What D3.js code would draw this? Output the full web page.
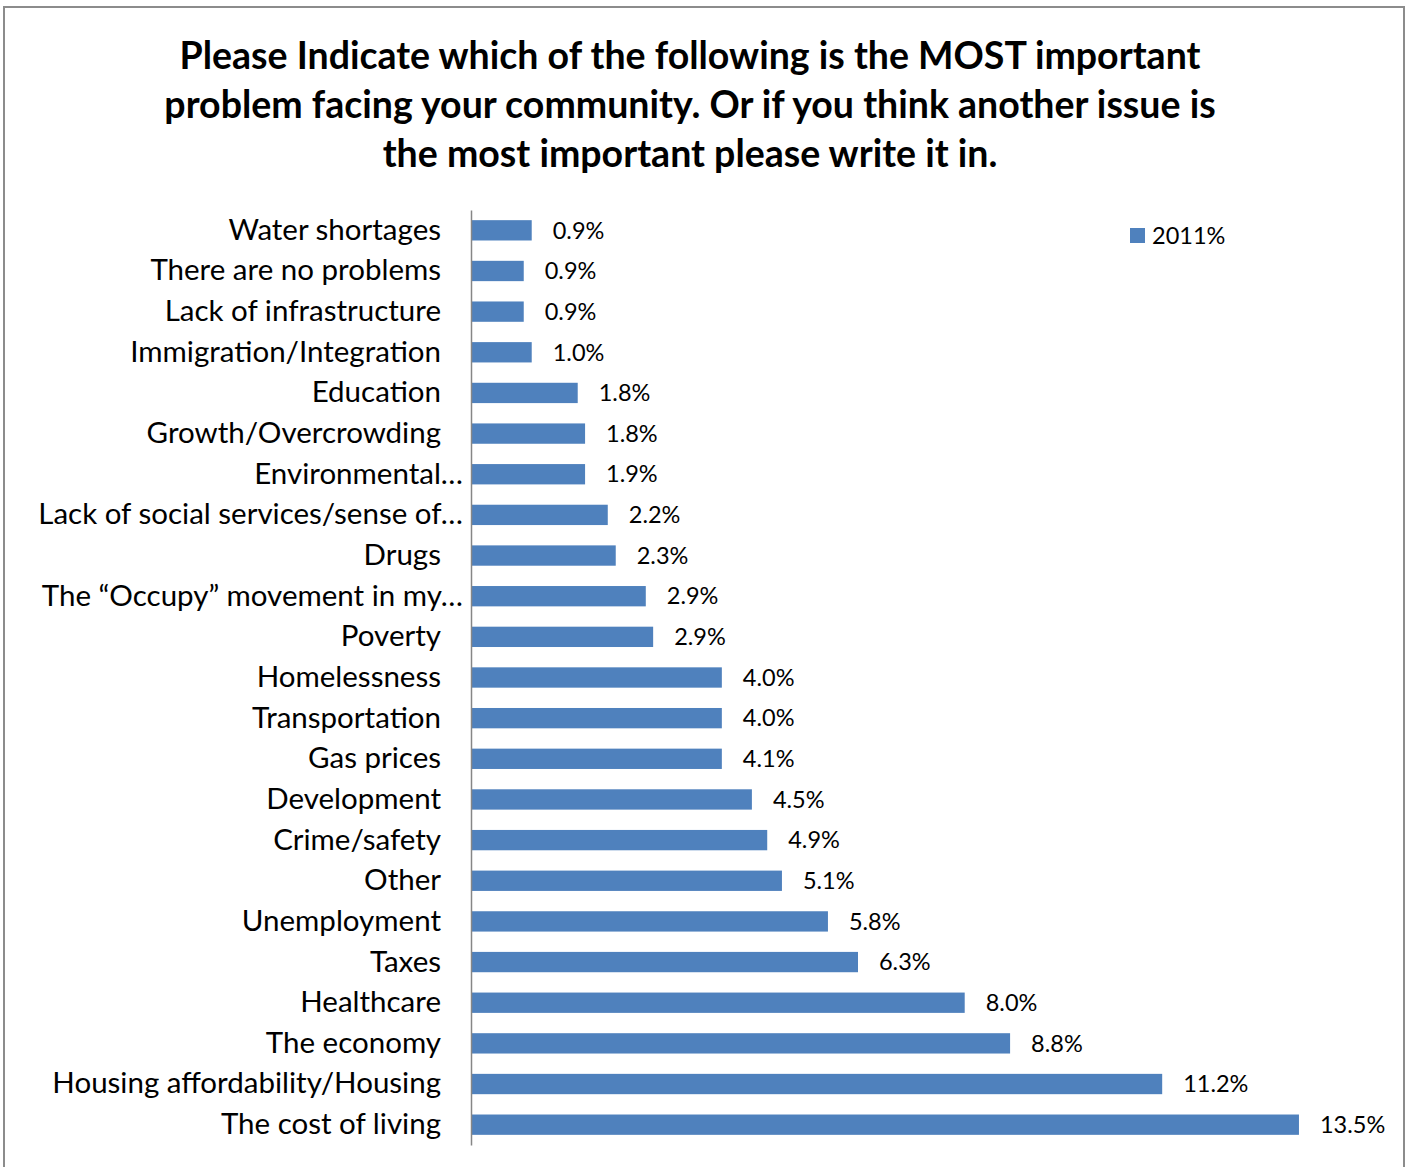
<html>
  <head>
    <meta charset="utf-8">
    <script src="https://cdn.jsdelivr.net/npm/d3@7/dist/d3.min.js"></script>
    <style>
      body { margin: 0; background: #ffffff; }
      text { font-family: Lato, "Liberation Sans", sans-serif; fill: #000; }
    </style>
  </head>
  <body>
    <svg width="1408" height="1167"></svg>
    <script>
      // categories, top to bottom as drawn
      var categories = [
        "Water shortages", "There are no problems", "Lack of infrastructure",
        "Immigration/Integration", "Education", "Growth/Overcrowding",
        "Environmental\u2026", "Lack of social services/sense of\u2026", "Drugs",
        "The \u201cOccupy\u201d movement in my\u2026", "Poverty", "Homelessness",
        "Transportation", "Gas prices", "Development", "Crime/safety", "Other",
        "Unemployment", "Taxes", "Healthcare", "The economy",
        "Housing affordability/Housing", "The cost of living"
      ];
      // bar lengths (%)
      var values = [
        0.99, 0.86, 0.86, 0.99, 1.74, 1.86, 1.86, 2.23, 2.36, 2.85, 2.97, 4.09,
        4.09, 4.09, 4.58, 4.83, 5.07, 5.82, 6.31, 8.05, 8.79, 11.27, 13.5
      ];
      // data labels as printed
      var labels = [
        "0.9%", "0.9%", "0.9%", "1.0%", "1.8%", "1.8%", "1.9%", "2.2%", "2.3%",
        "2.9%", "2.9%", "4.0%", "4.0%", "4.1%", "4.5%", "4.9%", "5.1%", "5.8%",
        "6.3%", "8.0%", "8.8%", "11.2%", "13.5%"
      ];
      var titleLines = [
        "Please Indicate which of the following is the MOST important",
        "problem facing your community. Or if you think another issue is",
        "the most important please write it in."
      ];
      var seriesName = "2011%";

      var svg = d3.select("svg");
      var color = "#4f81bd";

      svg.append("rect")
        .attr("x", 4).attr("y", 7)
        .attr("width", 1400).attr("height", 1170)
        .attr("fill", "#fff")
        .attr("stroke", "#8c8c8c")
        .attr("stroke-width", 2);

      svg.append("g")
        .selectAll("text")
        .data(titleLines)
        .enter().append("text")
        .attr("x", 690)
        .attr("y", function(d, i) { return 69 + i * 49; })
        .attr("text-anchor", "middle")
        .style("font-weight", "bold")
        .style("font-size", "37.5px")
        .text(function(d) { return d; });

      var x = d3.scaleLinear().domain([0, 14]).range([471, 471 + 14 * 61.33]);
      var y = d3.scaleBand().domain(categories).range([210, 1145])
        .paddingInner(0.5).paddingOuter(0.25);

      var rows = categories.map(function(c, i) {
        return { cat: c, value: values[i], label: labels[i] };
      });

      svg.append("g")
        .selectAll("rect")
        .data(rows)
        .enter().append("rect")
        .attr("x", x(0))
        .attr("y", function(d) { return y(d.cat); })
        .attr("width", function(d) { return x(d.value) - x(0); })
        .attr("height", y.bandwidth())
        .attr("fill", color);

      // category axis
      var axis = svg.append("g")
        .attr("transform", "translate(" + x(0) + ",0)")
        .call(d3.axisLeft(y).tickSize(0).tickPadding(30));
      axis.select(".domain").attr("stroke", "#868686").attr("stroke-width", 1.5);
      axis.selectAll(".tick text")
        .style("font-family", "Lato, sans-serif")
        .style("font-size", "29.5px")
        .attr("x", function(d) { return /\u2026$/.test(d) ? -8 : -30; });

      svg.append("g")
        .selectAll("text")
        .data(rows)
        .enter().append("text")
        .attr("x", function(d) { return x(d.value) + 21; })
        .attr("y", function(d) { return y(d.cat) + y.bandwidth() / 2; })
        .attr("dy", "0.35em")
        .style("font-size", "23.5px")
        .text(function(d) { return d.label; });

      var legend = svg.append("g").attr("transform", "translate(1130,228)");
      legend.append("rect").attr("width", 15).attr("height", 15).attr("fill", color);
      legend.append("text").attr("x", 22).attr("y", 8).attr("dy", "0.35em")
        .style("font-size", "23.5px").text(seriesName);
    </script>
  </body>
</html>
